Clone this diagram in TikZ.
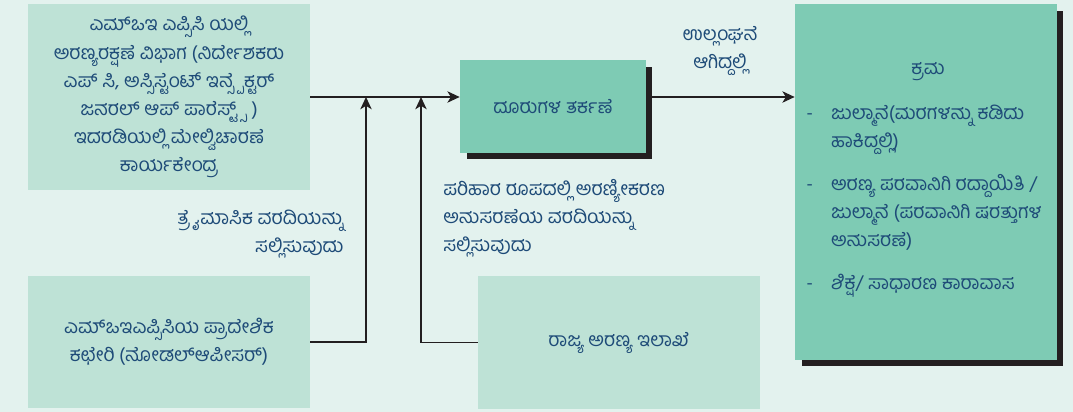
\documentclass[tikz,border=0pt]{standalone}
\usepackage{fontspec}
\newfontfamily\kannada[Script=Kannada]{Hind Mysuru}
\usetikzlibrary{
  arrows.meta,
  positioning,
  shadows
}
\definecolor{pagebg}{HTML}{E3F2EE}
\definecolor{palebox}{HTML}{BEE2D6}
\definecolor{deepbox}{HTML}{7ECBB4}
\definecolor{inkblue}{HTML}{1E4B78}
\definecolor{linegray}{HTML}{231F20}
\tikzset{
  >={Stealth[length=7pt, width=6.5pt, inset=2pt]},
  every node/.style = {font=\kannada\fontsize{11}{16}\selectfont, text=inkblue},
  office/.style = {fill=palebox, inner sep=0pt, align=center},
  action/.style = {fill=deepbox, inner sep=0pt,
    drop shadow={shadow xshift=0.13cm, shadow yshift=-0.13cm, opacity=1, fill=linegray}},
  flow/.style = {draw=linegray, line width=0.8pt},
  note/.style = {inner sep=0pt},
}

\begin{document}
\begin{tikzpicture}[x=0.02cm, y=-0.02cm]
  \fill[pagebg] (0,0) rectangle (1073,412);
  \node[office, minimum width=5.64cm, minimum height=3.72cm] (moefcc) at (169,97)
    {ಎಮ್‌ಒಇ ಎಪ್ಸಿಸಿ ಯಲ್ಲಿ\\ಅರಣ್ಯರಕ್ಷಣೆ ವಿಭಾಗ (ನಿರ್ದೇಶಕರು\\ಎಪ್ ಸಿ, ಅಸ್ಸಿಸ್ಟೆಂಟ್ ಇನ್ಸ್ಪೆಕ್ಟರ್\\ಜನರಲ್ ಆಪ್ ಪಾರೆಸ್ಟ್ಸ್ )\\ಇದರಡಿಯಲ್ಲಿ ಮೇಲ್ವಿಚಾರಣೆ\\ಕಾರ್ಯಕೇಂದ್ರ};
  \node[office, minimum width=5.64cm, minimum height=2.64cm] (regional) at (169,342)
    {ಎಮ್‌ಒಇಎಪ್ಸಿಸಿಯ ಪ್ರಾದೇಶಿಕ\\ಕಛೇರಿ (ನೋಡಲ್‌ಆಪೀಸರ್)};
  \node[action, minimum width=3.72cm, minimum height=1.86cm] (check) at (553,106.5)
    {ದೂರುಗಳ ತರ್ಕಣೆ};
  \node[office, minimum width=5.64cm, minimum height=2.66cm] (statedept) at (619,342.5)
    {ರಾಜ್ಯ ಅರಣ್ಯ ಇಲಾಖೆ};
  \node[action, minimum width=5.24cm, minimum height=7.12cm] (measures) at (926,182) {};

  % box on the right
  \node[note] (kramatitle) at (928,72) {ಕ್ರಮ};
  \node[note, anchor=north west] (kramalist) at (806,99) {%
    \begin{tabular}{@{}l@{\hspace{0.36cm}}l@{}}
      - & ಜುಲ್ಮಾನೆ(ಮರಗಳನ್ನು ಕಡಿದು\\
        & ಹಾಕಿದ್ದಲ್ಲಿ)\\[0.3cm]
      - & ಅರಣ್ಯ ಪರವಾನಿಗಿ ರದ್ದಾಯಿತಿ /\\
        & ಜುಲ್ಮಾನೆ (ಪರವಾನಿಗಿ ಷರತ್ತುಗಳ\\
        & ಅನುಸರಣೆ)\\[0.3cm]
      - & ಶಿಕ್ಷೆ/ ಸಾಧಾರಣ ಕಾರಾವಾಸ
    \end{tabular}};

  % labels
  \node[note, align=center] (violation) at (720,51) {ಉಲ್ಲಂಘನೆ\\ಆಗಿದ್ದಲ್ಲಿ};
  \node[note, align=right, anchor=east] (quarterly) at (344,234)
    {ತ್ರೈಮಾಸಿಕ ವರದಿಯನ್ನು\\ಸಲ್ಲಿಸುವುದು};
  \node[note, align=left, anchor=west] (afforest) at (443,218)
    {ಪರಿಹಾರ ರೂಪದಲ್ಲಿ ಅರಣ್ಯೀಕರಣ\\ಅನುಸರಣೆಯ ವರದಿಯನ್ನು\\ಸಲ್ಲಿಸುವುದು};

  % connectors
  \coordinate (joinA) at (366,97);
  \coordinate (joinB) at (421,97);
  \draw[flow, ->] (moefcc.east) -- (moefcc.east -| check.west);
  \draw[flow, ->] (regional.east) -| (joinA);
  \draw[flow, ->] (statedept.west) -| (joinB);
  \draw[flow, ->] (check.east |- moefcc.east) -- (measures.west |- moefcc.east);
\end{tikzpicture}
\end{document}
